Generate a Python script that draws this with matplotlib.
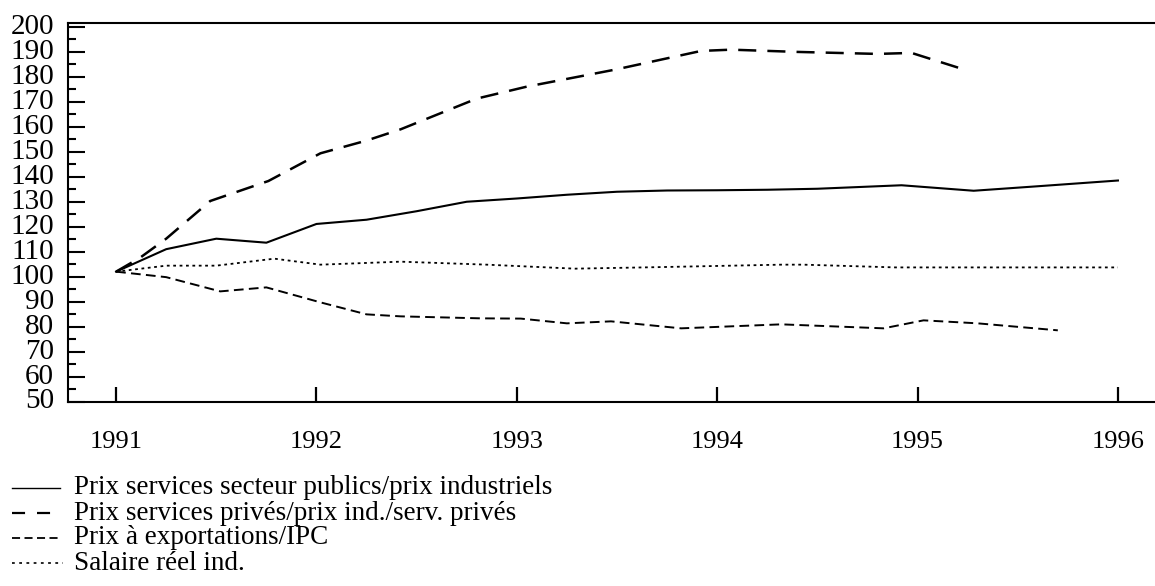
import matplotlib
matplotlib.use("Agg")
import matplotlib.pyplot as plt
from matplotlib.lines import Line2D
from matplotlib.ticker import MultipleLocator

plt.rcParams['font.family'] = ['Liberation Serif', 'DejaVu Serif']
plt.rcParams['lines.scale_dashes'] = False

# séries (année décimale, indice 1991 = 100)
x_public = [1991.0, 1991.25, 1991.5, 1991.75, 1992.0, 1992.25, 1992.5, 1992.75, 1993.0,
            1993.25, 1993.5, 1993.75, 1994.0, 1994.25, 1994.5, 1994.92, 1995.28, 1995.6, 1996.0]
y_public = [102.0, 111.0, 115.2, 113.6, 121.1, 122.8, 126.2, 130.0, 131.3,
            132.8, 134.0, 134.5, 134.6, 134.8, 135.2, 136.6, 134.4, 136.2, 138.5]

x_prives = [1991.0, 1991.12, 1991.25, 1991.47, 1991.76, 1992.02, 1992.25, 1992.42, 1992.8,
            1993.05, 1993.49, 1993.92, 1994.07, 1994.4, 1994.8, 1994.97, 1995.25]
y_prives = [102.0, 107.6, 115.2, 130.3, 138.3, 149.4, 154.5, 159.0, 171.3,
            176.1, 182.9, 190.4, 190.9, 190.0, 189.2, 189.6, 182.5]

x_export = [1991.0, 1991.25, 1991.52, 1991.75, 1992.02, 1992.25, 1992.42, 1992.82, 1993.02,
            1993.25, 1993.47, 1993.82, 1994.32, 1994.83, 1995.03, 1995.3, 1995.7]
y_export = [102.0, 99.8, 94.1, 95.7, 89.7, 84.9, 84.1, 83.3, 83.2,
            81.3, 82.1, 79.3, 80.9, 79.3, 82.5, 81.3, 78.5]

x_salaire = [1991.0, 1991.25, 1991.5, 1991.79, 1992.02, 1992.42, 1992.85, 1993.29, 1993.7,
             1994.32, 1994.43, 1994.89, 1995.4, 1996.0]
y_salaire = [102.0, 104.4, 104.4, 107.2, 104.8, 106.0, 104.8, 103.2, 103.8,
             104.8, 104.8, 103.7, 103.7, 103.7]

labels = ['Prix services secteur publics/prix industriels',
          'Prix services privés/prix ind./serv. privés',
          'Prix à exportations/IPC',
          'Salaire réel ind.']
years = [1991, 1992, 1993, 1994, 1995, 1996]

W, H = 1155, 586
fig = plt.figure(figsize=(W / 100, H / 100), dpi=100)
ax = fig.add_axes([68 / W, 1 - 401.5 / H, 1 - 68 / W, (401.5 - 22.7) / H])

styles = [dict(lw=1.5, ls='-'),
          dict(lw=1.8, dashes=(13, 8)),
          dict(lw=1.4, dashes=(7, 3.8)),
          dict(lw=1.3, dashes=(2, 2.6))]

ax.plot(x_public, y_public, color='black', solid_joinstyle='round', **styles[0])
ax.plot(x_prives, y_prives, color='black', **styles[1])
ax.plot(x_export, y_export, color='black', **styles[2])
ax.plot(x_salaire, y_salaire, color='black', **styles[3])

ax.set_xlim(1990.76, 1996.185)
ax.set_ylim(50, 201.7)
ax.set_xticks(years)
ax.set_xticklabels([str(y) for y in years])
ax.yaxis.set_major_locator(MultipleLocator(10))
ax.yaxis.set_minor_locator(MultipleLocator(5))

ax.tick_params(axis='y', which='major', direction='in', length=12, width=1.5,
               labelsize=21, pad=10)
ax.tick_params(axis='y', which='minor', direction='in', length=6, width=1.5)
ax.tick_params(axis='x', which='major', direction='in', length=11, width=1.6,
               labelsize=19, pad=21)
for lab in ax.get_yticklabels():
    lab.set_verticalalignment('center')

for side in ['left', 'bottom', 'top']:
    ax.spines[side].set_linewidth(1.5)
ax.spines['right'].set_visible(False)

# légende sous le graphique
leg_styles = [dict(lw=1.0, ls='-'),
              dict(lw=1.6, dashes=(9.4, 8.6)),
              dict(lw=1.3, dashes=(5.8, 3.2)),
              dict(lw=1.2, dashes=(2.0, 3.2))]
leg_ends = [60, 52, 59, 63]
for i, (lab, st, xe) in enumerate(zip(labels, leg_styles, leg_ends)):
    yp = 488 + 25 * i
    yf = 1 - yp / H
    fig.add_artist(Line2D([12 / W, xe / W], [yf, yf], transform=fig.transFigure,
                          color='black', **st))
    fig.text(74 / W, yf, lab, fontsize=19.5, va='center', ha='left')

fig.savefig('out.png', dpi=100)
